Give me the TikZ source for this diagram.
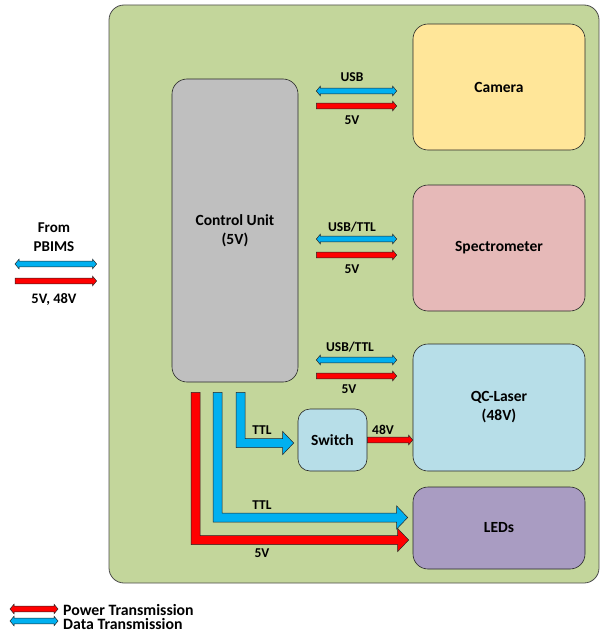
\documentclass[tikz,border=0pt]{standalone}
\usepackage{fontspec}
\setmainfont{Carlito}
\usetikzlibrary{calc}

\definecolor{framegreen}{HTML}{C3D69B}
\definecolor{cugray}{HTML}{BFBFBF}
\definecolor{camyellow}{HTML}{FFE699}
\definecolor{specpink}{HTML}{E6B9B8}
\definecolor{laserblue}{HTML}{B7DEE8}
\definecolor{ledpurple}{HTML}{A99CC2}
\definecolor{datablue}{HTML}{00B0F0}
\definecolor{powerred}{HTML}{FF0000}

% thin horizontal arrow pointing right: colour, start, end, y
\newcommand\ThinR[4]{%
  \filldraw[arrowedge, fill=#1] let \p1=(#2), \p2=(#3), \p3=(0,#4) in
    (\x1,\y3+2.8pt) -- (\x2-4pt,\y3+2.8pt) -- (\x2-4pt,\y3+4.8pt) -- (\x2,\y3)
    -- (\x2-4pt,\y3-4.8pt) -- (\x2-4pt,\y3-2.8pt) -- (\x1,\y3-2.8pt) -- cycle;}
% thin horizontal arrow with heads at both ends: colour, start, end, y
\newcommand\ThinLR[4]{%
  \filldraw[arrowedge, fill=#1] let \p1=(#2), \p2=(#3), \p3=(0,#4) in
    (\x1+4pt,\y3+2.8pt) -- (\x2-4pt,\y3+2.8pt) -- (\x2-4pt,\y3+4.8pt) -- (\x2,\y3)
    -- (\x2-4pt,\y3-4.8pt) -- (\x2-4pt,\y3-2.8pt) -- (\x1+4pt,\y3-2.8pt)
    -- (\x1+4pt,\y3-4.8pt) -- (\x1,\y3) -- (\x1+4pt,\y3+4.8pt) -- cycle;}
% wide bent arrow: down from the start, then right to the tip
\newcommand\BlockL[3]{%
  \filldraw[arrowedge, fill=#1] let \p1=(#2), \p2=(#3) in
    (\x1-4.5pt,\y1) -- (\x1+4.5pt,\y1) -- (\x1+4.5pt,\y2+4.5pt) -- (\x2-11pt,\y2+4.5pt)
    -- (\x2-11pt,\y2+11.5pt) -- (\x2,\y2) -- (\x2-11pt,\y2-11.5pt) -- (\x2-11pt,\y2-4.5pt)
    -- (\x1-4.5pt,\y2-4.5pt) -- cycle;}

\begin{document}
\begin{tikzpicture}[x=1pt, y=-1pt,
  font=\bfseries,
  box/.style={draw=black!85, line width=0.6pt, rounded corners=15pt, inner sep=0pt},
  arrowedge/.style={draw=black!85, line width=0.5pt},
  boxlabel/.style={font=\fontsize{15.5}{19}\selectfont\bfseries, align=center},
  linklabel/.style={font=\fontsize{13.5}{16}\selectfont\bfseries, inner sep=0pt},
  legendlabel/.style={font=\fontsize{15.8}{17}\selectfont\bfseries, inner sep=0pt, anchor=west}]
\useasboundingbox (0,0) rectangle (602,634);

% enclosure and units
\node[box, draw=black!70, line width=0.8pt, fill=framegreen, minimum width=490pt, minimum height=578pt] (frame) at (354,294) {};
\node[box, fill=cugray, minimum width=126pt, minimum height=303pt, boxlabel] (cu) at (235,230.5) {Control Unit\\(5V)};
\node[box, fill=camyellow, minimum width=172pt, minimum height=126pt, boxlabel] (cam) at (499,87) {Camera};
\node[box, fill=specpink, minimum width=172pt, minimum height=126pt, boxlabel] (spec) at (499,248) {Spectrometer};
\node[box, fill=laserblue, minimum width=172pt, minimum height=127pt, boxlabel] (laser) at (499,407.5) {QC-Laser\\(48V)};
\node[box, fill=ledpurple, minimum width=172pt, minimum height=82pt, boxlabel] (leds) at (499,528) {LEDs};
\node[box, rounded corners=12pt, fill=laserblue, minimum width=69pt, minimum height=62pt, boxlabel] (sw) at (332.5,440) {Switch};

% control unit to camera
\ThinLR{datablue}{$(cu.east)+(18,0)$}{$(cam.west)+(-16,0)$}{91}
\ThinR{powerred}{$(cu.east)+(18,0)$}{$(cam.west)+(-16,0)$}{106}
\node[linklabel] (lcam1) at (352,77) {USB};
\node[linklabel] (lcam2) at (352,120) {5V};

% control unit to spectrometer
\ThinLR{datablue}{$(cu.east)+(18,0)$}{$(spec.west)+(-16,0)$}{239}
\ThinR{powerred}{$(cu.east)+(18,0)$}{$(spec.west)+(-16,0)$}{255}
\node[linklabel] (lspec1) at (352,227) {USB/TTL};
\node[linklabel] (lspec2) at (352,269) {5V};

% control unit to laser
\ThinLR{datablue}{$(cu.east)+(18,0)$}{$(laser.west)+(-16,0)$}{360}
\ThinR{powerred}{$(cu.east)+(18,0)$}{$(laser.west)+(-16,0)$}{376}
\node[linklabel] (llas1) at (350,347) {USB/TTL};
\node[linklabel] (llas2) at (349,389) {5V};

% switch to laser
\ThinR{powerred}{sw.east}{laser.west}{440}
\node[linklabel] (l48) at (383,430) {48V};

% bent links from the control unit
\BlockL{powerred}{$(cu.south)+(-39.5,10)$}{$(leds.west)+(-4,12)$}
\BlockL{datablue}{$(cu.south)+(-17.5,10)$}{$(leds.west)+(-5,-10.5)$}
\BlockL{datablue}{$(cu.south)+(5.5,10)$}{$(sw.west)+(-4,3)$}
\node[linklabel] (lttl1) at (262,430) {TTL};
\node[linklabel] (lttl2) at (262,505) {TTL};
\node[linklabel] (l5v) at (262,553) {5V};

% external supply
\node[linklabel, align=center, font=\fontsize{15}{19}\selectfont\bfseries] (pb) at (54,237.5) {From\\PBIMS};
\ThinLR{datablue}{15,0}{$(frame.west)+(-12,0)$}{264}
\ThinR{powerred}{15,0}{$(frame.west)+(-12,0)$}{281}
\node[linklabel, font=\fontsize{14.5}{16}\selectfont\bfseries] (pbv) at (54,299) {5V, 48V};

% legend
\ThinLR{powerred}{10,0}{58,0}{609}
\ThinLR{datablue}{10,0}{58,0}{621}
\node[legendlabel] (legp) at (63,610) {Power Transmission};
\node[legendlabel] (legd) at (63,624.5) {Data Transmission};
\end{tikzpicture}
\end{document}
